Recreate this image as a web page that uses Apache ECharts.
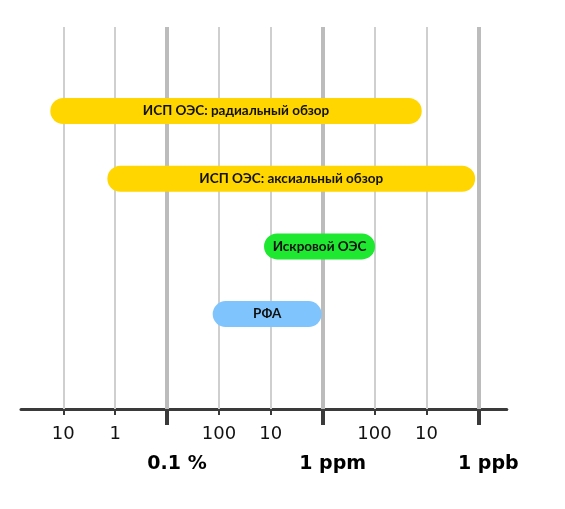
<!DOCTYPE html>
<html>
<head>
<meta charset="utf-8">
<script src="https://cdn.jsdelivr.net/npm/echarts@6/dist/echarts.min.js"></script>
<style>
html,body{margin:0;padding:0;background:#fff;}
#chart{width:565px;height:509px;}
</style>
</head>
<body>
<div id="chart"></div>
<script>
// Axis values: log10 of concentration expressed in ppb (10 % = 8, 1 ppb = 0)
const methods = ['ИСП ОЭС: радиальный обзор', 'ИСП ОЭС: аксиальный обзор', 'Искровой ОЭС', 'РФА'];
const rangeStart = [8.25, 7.15, 4.13, 5.12];   // upper limit (highest concentration)
const rangeEnd   = [1.09, 0.06, 1.99, 3.02];   // detection limit (lowest concentration)
const minorTickValues = [8, 7, 5, 4, 2, 1];
const minorTickLabels = ['10', '1', '100', '10', '100', '10'];
const majorTickValues = [6, 3, 0];
const majorTickLabels = ['0.1 %', '1 ppm', '1 ppb'];

const barColors = ['#FFD600', '#FFD600', '#1EE82F', '#7FC4FC'];

const chart = echarts.init(document.getElementById('chart'), null, {renderer: 'canvas'});

const axisMin = -0.55, axisMax = 8.815;

const gridLines = []
  .concat(minorTickValues.map(v => ({xAxis: v, lineStyle: {color: '#cfcfcf', width: 2, type: 'solid'}})))
  .concat(majorTickValues.map(v => ({xAxis: v, lineStyle: {color: '#bcbcbc', width: 4, type: 'solid'}})));

chart.setOption({
  animation: false,
  grid: {left: 21, right: 58.2, top: 27, bottom: 100, containLabel: false},
  xAxis: [
    {
      type: 'value', position: 'bottom', inverse: true, min: axisMin, max: axisMax,
      axisLine: {show: true, onZero: false, lineStyle: {color: '#3a3a3a', width: 3}},
      axisTick: {show: true, customValues: minorTickValues, length: 6, lineStyle: {color: '#3a3a3a', width: 2}},
      axisLabel: {
        show: true, customValues: minorTickValues, margin: 16,
        color: '#111', fontFamily: 'DejaVu Sans', fontSize: 18,
        formatter: v => minorTickLabels[minorTickValues.indexOf(Math.round(v))]
      },
      splitLine: {show: false}
    },
    {
      type: 'value', position: 'bottom', inverse: true, min: axisMin, max: axisMax,
      axisLine: {show: false, onZero: false},
      axisTick: {show: true, customValues: majorTickValues, length: 16, lineStyle: {color: '#3a3a3a', width: 4}},
      axisLabel: {
        show: true, customValues: majorTickValues, margin: 46,
        color: '#000', fontFamily: 'DejaVu Sans', fontWeight: 'bold', fontSize: 19,
        padding: [0, 0, 0, 20],
        formatter: v => majorTickLabels[majorTickValues.indexOf(Math.round(v))]
      },
      splitLine: {show: false}
    }
  ],
  yAxis: {type: 'value', show: false, inverse: true, min: -1.241, max: 4.402},
  series: [
    {
      type: 'line', xAxisIndex: 0, data: [], z: 1, silent: true,
      markLine: {silent: true, symbol: 'none', label: {show: false}, animation: false, data: gridLines}
    },
    {
      type: 'custom', xAxisIndex: 0, z: 5,
      encode: {x: [0, 1], y: 2},
      data: methods.map((m, i) => [rangeStart[i], rangeEnd[i], i, m]),
      renderItem: function (params, api) {
        const s = api.coord([api.value(0), api.value(2)]);
        const e = api.coord([api.value(1), api.value(2)]);
        const h = 26;
        const x0 = Math.min(s[0], e[0]);
        const w = Math.abs(e[0] - s[0]);
        return {
          type: 'rect',
          shape: {x: x0, y: s[1] - h / 2, width: w, height: h, r: h / 2},
          style: {fill: barColors[params.dataIndex]},
          textContent: {
            style: {
              text: methods[params.dataIndex],
              fill: '#111',
              font: 'bold 13.5px Lato'
            }
          },
          textConfig: {position: 'inside'}
        };
      }
    }
  ]
});
</script>
</body>
</html>
